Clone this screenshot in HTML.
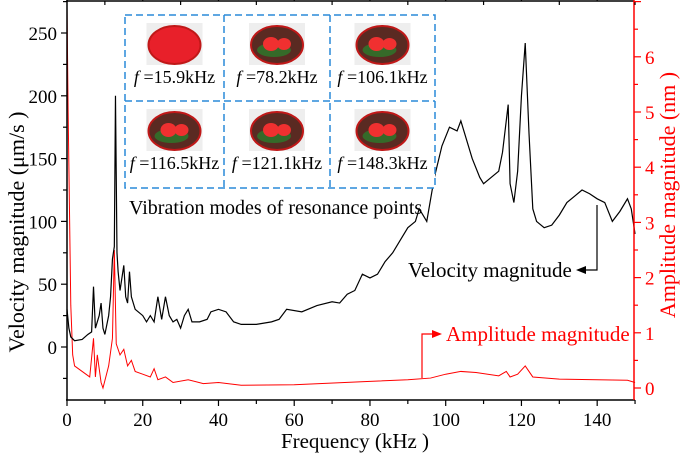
<!DOCTYPE html>
<html><head><meta charset="utf-8"><style>
body{margin:0;background:#fff}
svg{font-family:"Liberation Serif",serif}
</style></head><body>
<svg width="685" height="456" viewBox="0 0 685 456">
<g id="grid"></g>
<g id="plot"></g>
<g id="axes"></g>
<g id="inset"></g>
<g id="ann"></g>
</svg>
<script>
const velF=[0,0.5,1,2,4,5.5,6.5,7,7.5,8.5,9,9.5,10,11,11.5,12,12.5,12.8,13.2,13.5,14,15,15.5,16,16.5,17,18,20,21,22,23,24,25,26,27,28,29,30,31,32,33,35,37,38,40,42,44,46,50,54,56,58,62,66,70,72,74,76,78,80,82,84,86,88,90,92,93,94,95,97,99,101,103,104,105,107,109,110,112,114,115,116.5,117,118,119,120,121,122,123,124,126,128,130,132,134,136,138,140,142,144,146,148,149,150];
const velV=[30,15,8,5,6,10,12,48,15,25,35,15,10,25,40,70,80,200,75,60,45,65,40,35,60,40,30,25,20,25,20,40,22,40,25,20,22,15,25,30,20,20,22,28,30,28,20,18,18,20,22,30,28,33,36,35,42,45,58,55,58,68,75,85,95,100,110,105,100,135,160,175,172,180,170,150,135,130,135,140,155,193,130,115,140,200,242,170,110,100,95,97,105,115,120,125,122,118,115,100,108,118,110,90];
const ampF=[0,0.3,1,1.5,2,4,6,7,7.5,8,9,9.5,11,12,12.5,13,14,15,16,17,18,20,22,23,24,26,28,32,36,40,46,60,80,90,96,100,104,108,114,116,117,119,121,123,130,140,148,150];
const ampV=[6.9,5,1.5,0.6,0.4,0.3,0.2,0.9,0.2,0.6,0.1,0,0.4,0.9,2.5,0.8,0.6,0.7,0.4,0.5,0.3,0.25,0.2,0.35,0.15,0.2,0.1,0.15,0.08,0.1,0.05,0.06,0.12,0.15,0.18,0.25,0.3,0.28,0.22,0.3,0.2,0.25,0.4,0.2,0.16,0.15,0.14,0.1];
const xTicks=[0,20,40,60,80,100,120,140];
const yTicks=[0,50,100,150,200,250];
const rTicks=[0,1,2,3,4,5,6];
const modeLabels=["15.9","78.2","106.1","116.5","121.1","148.3"];
const NS="http://www.w3.org/2000/svg";
const X=f=>67+f*3.787, YL=v=>347-v*1.256, YR=a=>388-a*55.2;
function mk(tag,attrs,parent,txt){const e=document.createElementNS(NS,tag);for(const k in attrs)e.setAttribute(k,attrs[k]);if(txt!==undefined)e.textContent=txt;document.getElementById(parent).appendChild(e);return e;}
let p=mk('polyline',{points:ampF.map((f,i)=>X(f)+','+YR(ampV[i])).join(' '),fill:'none',stroke:'#f00','stroke-width':1},'plot');


p=mk('polyline',{points:velF.map((f,i)=>X(f)+','+YL(velV[i])).join(' '),fill:'none',stroke:'#000','stroke-width':1.2},'plot');


mk('line',{x1:67,y1:0,x2:67,y2:400,stroke:'#000','stroke-width':1.5},'axes');
mk('line',{x1:66,y1:400,x2:635,y2:400,stroke:'#000','stroke-width':1.5},'axes');
mk('line',{x1:67,y1:1,x2:634,y2:1,stroke:'#000','stroke-width':1.5},'axes');
mk('line',{x1:634,y1:0,x2:634,y2:400,stroke:'#f00','stroke-width':1.5},'axes');
for(let f=0;f<=150;f+=10){mk('line',{x1:X(f),y1:400,x2:X(f),y2:f%20==0?406:404,stroke:'#000','stroke-width':1.2},'axes');mk('line',{x1:X(f),y1:1,x2:X(f),y2:f%20==0?-5:5,stroke:'#000','stroke-width':1.2},'axes');}
xTicks.forEach(t=>{const e=mk('text',{x:X(t),y:426,'text-anchor':'middle','font-size':19},'axes',t);});
for(let v=-25;v<=275;v+=25){mk('line',{x1:67,y1:YL(v),x2:v%50==0?61:63,y2:YL(v),stroke:'#000','stroke-width':1.2},'axes');}
yTicks.forEach(t=>{const e=mk('text',{x:57,y:YL(t)+7,'text-anchor':'end','font-size':19},'axes',t);});
for(let a=0;a<=7;a+=0.5){mk('line',{x1:634,y1:YR(a),x2:a%1==0?641:638,y2:YR(a),stroke:'#f00','stroke-width':1.2},'axes');}
rTicks.forEach(t=>{const e=mk('text',{x:645,y:YR(t)+7,'font-size':19,fill:'#f00'},'axes',t);});
let t=mk('text',{x:355,y:448,'text-anchor':'middle','font-size':21},'axes','Frequency (kHz )');
t=mk('text',{transform:'translate(24,232) rotate(-90)','text-anchor':'middle','font-size':22},'axes','Velocity magnitude (μm/s )');
t=mk('text',{transform:'translate(675,195) rotate(-90)','text-anchor':'middle','font-size':22,fill:'#f00'},'axes','Amplitude magnitude (nm )');
const cx=[125,224,330,435], cy=[15,101,188];
mk('rect',{x:125,y:15,width:310,height:173,fill:'#fff',stroke:'#2a8ad8','stroke-width':1.5,'stroke-dasharray':'7,4'},'inset');
mk('line',{x1:125,y1:101,x2:435,y2:101,stroke:'#2a8ad8','stroke-width':1.5,'stroke-dasharray':'7,4'},'inset');
[224,330].forEach(x=>mk('line',{x1:x,y1:15,x2:x,y2:188,stroke:'#2a8ad8','stroke-width':1.5,'stroke-dasharray':'7,4'},'inset'));
modeLabels.forEach((m,i)=>{const c=i%3,r=Math.floor(i/3);const mx=(cx[c]+cx[c+1])/2, my=cy[r]+30;
 mk('rect',{x:mx-28,y:my-22,width:56,height:42,fill:'#eee'},'inset');
 mk('ellipse',{cx:mx,cy:my,rx:26,ry:19,fill:i==0?'#e8202a':'#5a2a22',stroke:'#c01818','stroke-width':2},'inset');
 if(i>0){mk('ellipse',{cx:mx-3,cy:my+5,rx:17,ry:7,fill:'#2c7a2c',opacity:0.8},'inset');mk('ellipse',{cx:mx-6,cy:my-1,rx:8,ry:7,fill:'#f03030'},'inset');mk('ellipse',{cx:mx+7,cy:my-1,rx:7,ry:6,fill:'#f03030'},'inset');}
 const e=mk('text',{x:mx,y:cy[r]+68,'text-anchor':'middle','font-size':18},'inset');e.innerHTML='<tspan font-style="italic">f</tspan> ='+m+'kHz';
 });
t=mk('text',{x:129,y:214,'font-size':20},'inset','Vibration modes of resonance points');
mk('polyline',{points:'597,205 597,270 584,270',fill:'none',stroke:'#000','stroke-width':1.2},'ann');
mk('polygon',{points:'576,270 586,266 586,274',fill:'#000'},'ann');
t=mk('text',{x:408,y:277,'font-size':21},'ann','Velocity magnitude');
mk('polyline',{points:'422,378 422,334 434,334',fill:'none',stroke:'#f00','stroke-width':1.2},'ann');
mk('polygon',{points:'442,334 432,330 432,338',fill:'#f00'},'ann');
t=mk('text',{x:446,y:341,'font-size':21,fill:'#f00'},'ann','Amplitude magnitude');
</script>
</body></html>
